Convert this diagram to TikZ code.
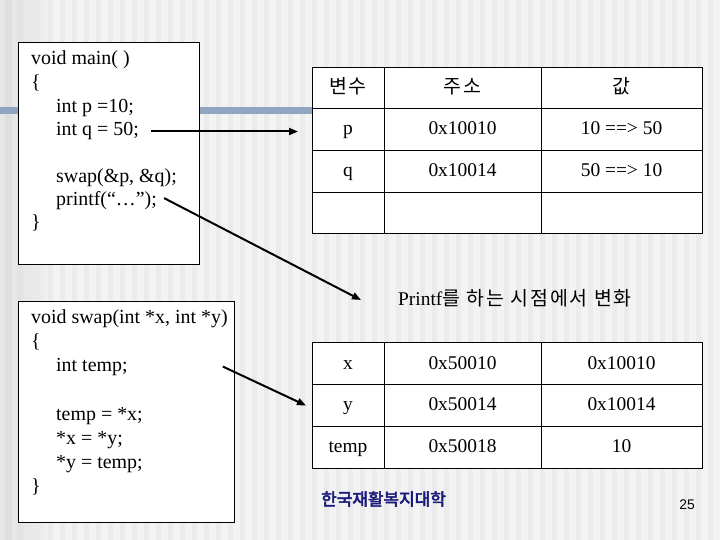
\documentclass[tikz,border=0pt]{standalone}
\usepackage{fontspec}
\setmainfont{Liberation Serif}
\setsansfont{Liberation Sans}
\newfontfamily\korfont{Noto Sans CJK KR}[LetterSpace=10]
\newfontfamily\korboldfont{Noto Sans CJK KR}[FakeBold=3]
\usetikzlibrary{arrows.meta,positioning}
\definecolor{slidebg}{HTML}{F3F3F3}
\definecolor{stripe}{HTML}{E9E9E9}
\definecolor{slidebar}{HTML}{8FA5C0}
\definecolor{navy}{HTML}{1A1A7A}
\tikzset{
  codepanel/.style={
    rectangle, draw=black, fill=white, line width=1pt,
    anchor=north west, inner sep=0pt
  },
  codeline/.style={
    anchor=base west, inner sep=0pt,
    font=\fontsize{20}{24}\selectfont
  },
  cell/.style={
    rectangle, draw=black, fill=white, line width=1pt,
    minimum width=#1, minimum height=41.7bp,
    inner sep=0pt, outer sep=0pt,
    text height=13.5bp, text depth=3bp,
    font=\fontsize{19.5}{23}\selectfont
  },
  cell/.default=72bp,
  ptrarrow/.style={
    -{Triangle[length=9bp, width=7bp]}, line width=2pt, color=black
  },
  notelabel/.style={
    font=\fontsize{19.5}{23}\selectfont, inner sep=0pt
  },
}

\begin{document}
\begin{tikzpicture}[x=1bp, y=-1bp]
  \useasboundingbox (0,0) rectangle (720,540);
  % slide background
  \fill[slidebg] (0,0) rectangle (720,540);
  \shade[left color=gray!28, right color=slidebg] (0,0) rectangle (55,540);
  \foreach \sx in {0,12,...,708}
    \fill[stripe, opacity=0.8] (\sx,0) rectangle ++(5,540);
  \fill[slidebar] (0,107) rectangle (312,114);

  % main()
  \node[codepanel, minimum width=181bp, minimum height=222bp] (mainbox) at (18,42) {};
  \node[codeline] (lmain) at (31,65) {void main( )};
  \node[codeline] (lopen) at (31,89) {\{};
  \node[codeline] (lp) at (56,113) {int p =10;};
  \node[codeline] (lq) at (56,136) {int q = 50;};
  \node[codeline] (lswap) at (56,183) {swap(\&p, \&q);};
  \node[codeline] (lprintf) at (56,206) {printf(“…”);};
  \node[codeline] (lclose) at (31,229) {\}};

  % table of main()
  \node[cell] (hvar) at (348,87.9) {\korfont 변수};
  \node[cell=157bp] (haddr) at (462.5,87.9) {\korfont 주소};
  \node[cell=161bp] (hval) at (621.5,87.9) {\korfont 값};
  \node[cell] (tp) at (348,129.6) {p};
  \node[cell=157bp] (tpaddr) at (462.5,129.6) {0x10010};
  \node[cell=161bp] (tpval) at (621.5,129.6) {10 ==> 50};
  \node[cell] (tq) at (348,171.3) {q};
  \node[cell=157bp] (tqaddr) at (462.5,171.3) {0x10014};
  \node[cell=161bp] (tqval) at (621.5,171.3) {50 ==> 10};
  \node[cell] (te) at (348,213) {};
  \node[cell=157bp] (teaddr) at (462.5,213) {};
  \node[cell=161bp] (teval) at (621.5,213) {};

  \draw[ptrarrow] ([xshift=12bp]lq.east) -- ([xshift=-14bp]lq.east -| tp.west);

  % note
  \node[notelabel] (note) at (515,298) {Printf{\korfont 를 하는 시점에서 변화}};
  \coordinate (notetip) at (361,300);
  \draw[ptrarrow] ([xshift=7bp, yshift=3bp]lprintf.east) -- (notetip);

  % swap()
  \node[codepanel, minimum width=216bp, minimum height=221bp] (swapbox) at (18,301) {};
  \node[codeline] (lsig) at (31,323) {void swap(int *x, int *y)};
  \node[codeline] (lsopen) at (31,347) {\{};
  \node[codeline] (ltemp) at (56,371) {int temp;};
  \node[codeline] (lt1) at (56,420) {temp = *x;};
  \node[codeline] (lt2) at (56,444) {*x = *y;};
  \node[codeline] (lt3) at (56,468) {*y = temp;};
  \node[codeline] (lsclose) at (31,492) {\}};

  % table of swap()
  \node[cell] (tx) at (348,363.8) {x};
  \node[cell=157bp] (txaddr) at (462.5,363.8) {0x50010};
  \node[cell=161bp] (txval) at (621.5,363.8) {0x10010};
  \node[cell] (ty) at (348,405.5) {y};
  \node[cell=157bp] (tyaddr) at (462.5,405.5) {0x50014};
  \node[cell=161bp] (tyval) at (621.5,405.5) {0x10014};
  \node[cell] (tt) at (348,447.2) {temp};
  \node[cell=157bp] (ttaddr) at (462.5,447.2) {0x50018};
  \node[cell=161bp] (ttval) at (621.5,447.2) {10};

  \draw[ptrarrow] ([xshift=95bp]ltemp.east) -- ([xshift=-6bp]ty.west);

  % footer
  \node[font=\korboldfont\fontsize{17}{20}\selectfont, text=navy, anchor=west, inner sep=0pt] (school) at (321,499) {한국재활복지대학};
  \node[font=\sffamily\fontsize{14}{16}\selectfont, anchor=base east, inner sep=0pt] (pageno) at (695,509) {25};
\end{tikzpicture}
\end{document}
